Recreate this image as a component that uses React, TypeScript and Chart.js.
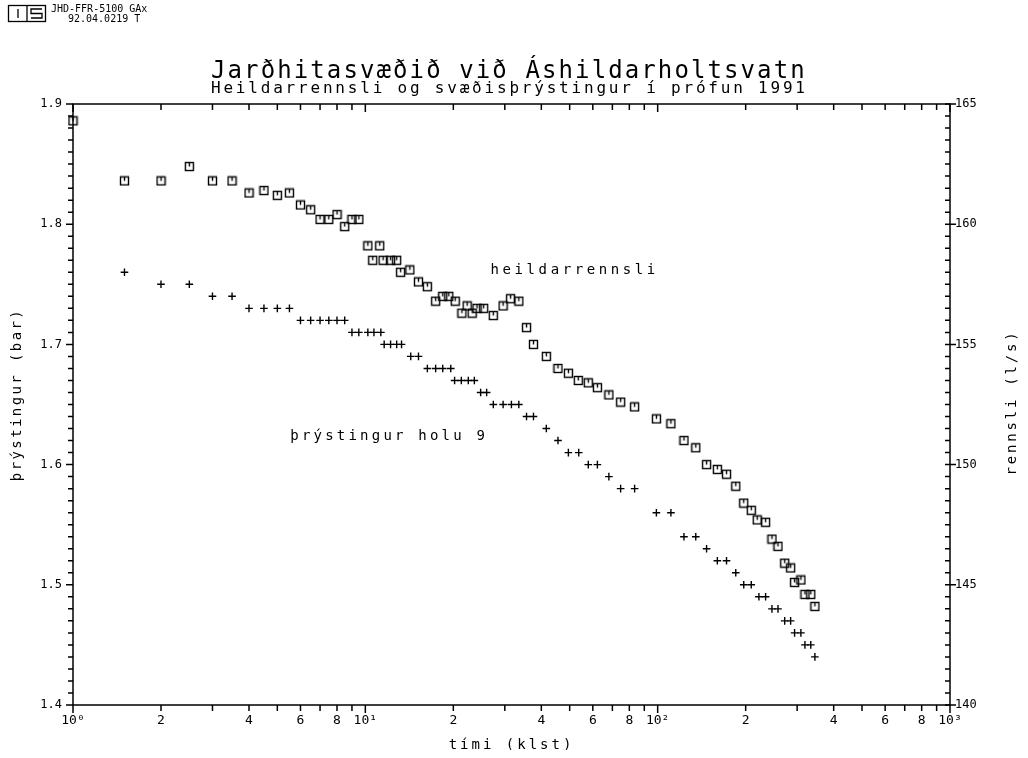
import React, { useEffect, useRef } from "react";
import { Chart, registerables } from "chart.js";

Chart.register(...registerables);

const FONT = "'DejaVu Sans Mono', monospace";

// heildarrennsli (l/s) — right axis
const rateTime = [
  1.0, 1.5, 2.0, 2.5, 3.0, 3.5, 4.0, 4.5, 5.0, 5.5, 6.0, 6.5, 7.0, 7.5, 8.0, 8.5, 9.0, 9.5,
  10.2, 10.6, 11.2, 11.5, 12.2, 12.8, 13.2, 14.2, 15.2, 16.3, 17.4, 18.4, 19.3, 20.3, 21.4,
  22.3, 23.2, 24.1, 25.4, 27.4, 29.6, 31.4, 33.5, 35.6, 37.6, 41.6, 45.6, 49.5, 53.5, 57.9,
  62.2, 68.1, 74.7, 83.4, 99, 111, 123, 135, 147, 160, 172, 185, 197, 209, 219, 234, 246,
  258, 272, 285, 294, 309, 319, 334, 345,
];
const rateValue = [
  164.3, 161.8, 161.8, 162.4, 161.8, 161.8, 161.3, 161.4, 161.2, 161.3, 160.8, 160.6, 160.2,
  160.2, 160.4, 159.9, 160.2, 160.2, 159.1, 158.5, 159.1, 158.5, 158.5, 158.5, 158.0, 158.1,
  157.6, 157.4, 156.8, 157.0, 157.0, 156.8, 156.3, 156.6, 156.3, 156.5, 156.5, 156.2, 156.6,
  156.9, 156.8, 155.7, 155.0, 154.5, 154.0, 153.8, 153.5, 153.4, 153.2, 152.9, 152.6, 152.4,
  151.9, 151.7, 151.0, 150.7, 150.0, 149.8, 149.6, 149.1, 148.4, 148.1, 147.7, 147.6, 146.9,
  146.6, 145.9, 145.7, 145.1, 145.2, 144.6, 144.6, 144.1,
];

// þrýstingur holu 9 (bar) — left axis
const pressureTime = [
  1.5, 2.0, 2.5, 3.0, 3.5, 4.0, 4.5, 5.0, 5.5, 6.0, 6.5, 7.0, 7.5, 8.0, 8.5, 9.0, 9.5, 10.2,
  10.7, 11.3, 11.6, 12.2, 12.8, 13.3, 14.3, 15.2, 16.3, 17.4, 18.4, 19.6, 20.2, 21.3, 22.5,
  23.6, 24.8, 26.0, 27.4, 29.6, 31.6, 33.5, 35.6, 37.6, 41.6, 45.6, 49.5, 53.7, 57.9, 62.2,
  68.1, 74.7, 83.4, 99, 111, 123, 135, 147, 160, 172, 185, 197, 209, 222, 234, 246, 258, 272,
  285, 294, 309, 319, 334, 345,
];
const pressureValue = [
  1.76, 1.75, 1.75, 1.74, 1.74, 1.73, 1.73, 1.73, 1.73, 1.72, 1.72, 1.72, 1.72, 1.72, 1.72,
  1.71, 1.71, 1.71, 1.71, 1.71, 1.70, 1.70, 1.70, 1.70, 1.69, 1.69, 1.68, 1.68, 1.68, 1.68,
  1.67, 1.67, 1.67, 1.67, 1.66, 1.66, 1.65, 1.65, 1.65, 1.65, 1.64, 1.64, 1.63, 1.62, 1.61,
  1.61, 1.60, 1.60, 1.59, 1.58, 1.58, 1.56, 1.56, 1.54, 1.54, 1.53, 1.52, 1.52, 1.51, 1.50,
  1.50, 1.49, 1.49, 1.48, 1.48, 1.47, 1.47, 1.46, 1.46, 1.45, 1.45, 1.44,
];

// axes
const xTickValues = [
  1, 2, 3, 4, 5, 6, 7, 8, 9, 10, 20, 30, 40, 50, 60, 70, 80, 90, 100, 200, 300, 400, 500, 600,
  700, 800, 900, 1000,
];
const xLabelValues = [1, 2, 4, 6, 8, 10, 20, 40, 60, 80, 100, 200, 400, 600, 800, 1000];
const xLabelTexts = ["10⁰", "2", "4", "6", "8", "10¹", "2", "4", "6", "8", "10²", "2", "4", "6", "8", "10³"];
const xDecades = [1, 10, 100, 1000];
const pressureRange = [1.4, 1.9];
const rateRange = [140, 165];

const titleText = "Jarðhitasvæðið við Áshildarholtsvatn";
const subtitleText = "Heildarrennsli og svæðisþrýstingur í prófun 1991";
const stampLines = ["JHD-FFR-5100 GAx", "92.04.0219 T"];
const xTitle = "tími (klst)";
const yLeftTitle = "þrýstingur (bar)";
const yRightTitle = "rennsli (l/s)";
const rateLabel = "heildarrennsli";
const pressureLabel = "þrýstingur holu 9";

function makeSquare(): HTMLCanvasElement {
  const c = document.createElement("canvas");
  c.width = 11;
  c.height = 11;
  const g = c.getContext("2d")!;
  g.strokeStyle = "#000";
  g.lineWidth = 1.4;
  g.strokeRect(1.5, 1.5, 8, 8);
  g.beginPath();
  g.moveTo(5.5, 2);
  g.lineTo(5.5, 5.5);
  g.stroke();
  return c;
}

function spacedText(ctx: any, text: string, x: number, y: number, spacing: string) {
  ctx.letterSpacing = spacing;
  ctx.fillText(text, x, y);
  ctx.letterSpacing = "0px";
}

const framePlugin = {
  id: "plotterFrame",
  afterDraw(chart: any) {
    const { ctx, chartArea: a, scales } = chart;
    const xs = scales.x;
    const yl = scales.y;
    const yr = scales.y1;
    ctx.save();
    ctx.strokeStyle = "#000";
    ctx.lineWidth = 1.5;
    ctx.strokeRect(a.left, a.top, a.right - a.left, a.bottom - a.top);
    ctx.beginPath();
    for (const v of xTickValues) {
      const px = xs.getPixelForValue(v);
      const len = xDecades.includes(v) ? 8 : 6;
      ctx.moveTo(px, a.bottom);
      ctx.lineTo(px, a.bottom + len);
      ctx.moveTo(px, a.top);
      ctx.lineTo(px, a.top + len);
    }
    for (let i = 0; i <= 50; i++) {
      const v = pressureRange[0] + i * 0.01;
      const py = yl.getPixelForValue(v);
      const major = i % 10 === 0;
      ctx.moveTo(a.left, py);
      ctx.lineTo(a.left - (major ? 7 : 5), py);
    }
    for (let i = 0; i <= 50; i++) {
      const v = rateRange[0] + i * 0.5;
      const py = yr.getPixelForValue(v);
      ctx.moveTo(a.right, py);
      ctx.lineTo(a.right - 5, py);
      if (i % 10 === 0) {
        ctx.moveTo(a.right, py);
        ctx.lineTo(a.right + 6, py);
      }
    }
    ctx.stroke();

    ctx.fillStyle = "#000";
    ctx.font = `14px ${FONT}`;
    ctx.textBaseline = "middle";

    // in-plot labels
    ctx.textAlign = "left";
    spacedText(ctx, rateLabel, xs.getPixelForValue(26.8), yl.getPixelForValue(1.762), "3.6px");
    spacedText(ctx, pressureLabel, xs.getPixelForValue(5.54), yl.getPixelForValue(1.6234), "3.2px");

    // axis titles
    ctx.textAlign = "center";
    spacedText(ctx, xTitle, (a.left + a.right) / 2, a.bottom + 40, "3px");

    ctx.save();
    ctx.translate(a.left - 56, (a.top + a.bottom) / 2 - 10);
    ctx.rotate(-Math.PI / 2);
    spacedText(ctx, yLeftTitle, 0, 0, "2.4px");
    ctx.restore();

    ctx.save();
    ctx.translate(a.right + 62, (a.top + a.bottom) / 2 - 2);
    ctx.rotate(-Math.PI / 2);
    spacedText(ctx, yRightTitle, 0, 0, "2.8px");
    ctx.restore();

    ctx.restore();
  },
};

function xLabel(v: number): string {
  const i = xLabelValues.findIndex((lv) => Math.abs(lv - v) < lv * 1e-6);
  return i >= 0 ? xLabelTexts[i] : "";
}

export default function App() {
  const ref = useRef<HTMLCanvasElement>(null);

  useEffect(() => {
    const canvas = ref.current!;
    const square = makeSquare();
    const chart = new Chart(canvas, {
      type: "scatter",
      data: {
        datasets: [
          {
            label: "heildarrennsli",
            data: rateTime.map((t, i) => ({ x: t, y: rateValue[i] })),
            yAxisID: "y1",
            pointStyle: square as any,
            pointRadius: 5,
            borderColor: "#000",
            backgroundColor: "#000",
            showLine: false,
            clip: false as any,
          },
          {
            label: "þrýstingur holu 9",
            data: pressureTime.map((t, i) => ({ x: t, y: pressureValue[i] })),
            yAxisID: "y",
            pointStyle: "cross",
            pointRadius: 3.8,
            borderWidth: 1.4,
            borderColor: "#000",
            backgroundColor: "#000",
            showLine: false,
            clip: false as any,
          },
        ],
      },
      options: {
        responsive: false,
        animation: false,
        events: [],
        layout: { padding: { top: 96, left: 0, right: 0, bottom: 0 } },
        plugins: {
          legend: { display: false },
          tooltip: { enabled: false },
          title: { display: false },
        },
        scales: {
          x: {
            type: "logarithmic",
            position: "bottom",
            min: 1,
            max: 1000,
            afterBuildTicks: (s: any) => {
              s.ticks = xTickValues.map((v) => ({ value: v }));
            },
            afterFit: (s: any) => {
              s.height = 45;
            },
            grid: { display: false, drawTicks: false },
            border: { display: false },
            ticks: {
              autoSkip: false,
              maxRotation: 0,
              minRotation: 0,
              padding: 8,
              color: "#000",
              font: { family: FONT, size: 13 },
              callback: (v: any) => xLabel(Number(v)),
            },
          },
          y: {
            type: "linear",
            position: "left",
            min: pressureRange[0],
            max: pressureRange[1],
            afterFit: (s: any) => {
              s.width = 65;
            },
            grid: { display: false, drawTicks: false },
            border: { display: false },
            ticks: {
              stepSize: 0.1,
              padding: 11,
              color: "#000",
              font: { family: FONT, size: 12 },
              callback: (v: any) => Number(v).toFixed(1),
            },
          },
          y1: {
            type: "linear",
            position: "right",
            min: rateRange[0],
            max: rateRange[1],
            afterFit: (s: any) => {
              s.width = 70;
            },
            grid: { display: false, drawTicks: false },
            border: { display: false },
            ticks: {
              stepSize: 5,
              padding: 5,
              color: "#000",
              font: { family: FONT, size: 12 },
              callback: (v: any) => String(Math.round(Number(v))),
            },
          },
        },
      },
      plugins: [framePlugin],
    });
    return () => chart.destroy();
  }, []);

  const textBase: React.CSSProperties = { position: "absolute", whiteSpace: "pre", margin: 0 };

  return (
    <div
      style={{
        position: "absolute",
        left: 0,
        top: 0,
        width: 1028,
        height: 758,
        fontFamily: FONT,
        color: "#000",
      }}
    >
      <canvas
        ref={ref}
        width={1012}
        height={742}
        style={{ position: "absolute", left: 8, top: 8, width: 1012, height: 742 }}
      />
      <svg width={40} height={19} style={{ position: "absolute", left: 7, top: 4 }} viewBox="0 0 40 19">
        <rect x={1.5} y={1.5} width={37} height={16} fill="none" stroke="#000" strokeWidth={1.3} />
        <line x1={20} y1={1.5} x2={20} y2={17.5} stroke="#000" strokeWidth={1.3} />
        <line x1={11} y1={5} x2={11} y2={14} stroke="#000" strokeWidth={1.3} />
        <polyline points="35,5 24,5 24,9.5 35,9.5 35,14 24,14" fill="none" stroke="#000" strokeWidth={1.3} />
      </svg>
      <div style={{ ...textBase, left: 51, top: 3, fontSize: 10, lineHeight: "11px" }}>{stampLines[0]}</div>
      <div style={{ ...textBase, left: 68, top: 13, fontSize: 10, lineHeight: "11px" }}>{stampLines[1]}</div>
      <div style={{ ...textBase, left: 211, top: 58, fontSize: 24, lineHeight: "24px", letterSpacing: "2.1px" }}>
        {titleText}
      </div>
      <div style={{ ...textBase, left: 211, top: 79, fontSize: 16, lineHeight: "18px", letterSpacing: "2.8px" }}>
        {subtitleText}
      </div>
    </div>
  );
}
